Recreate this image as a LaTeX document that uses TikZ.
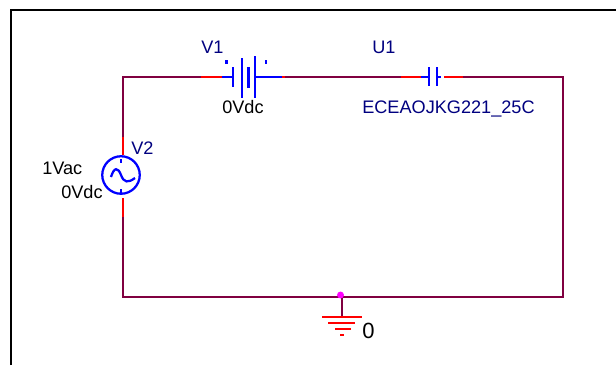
\documentclass[tikz,border=0pt]{standalone}
\usepackage{fontspec}
\setmainfont{Liberation Sans}
\definecolor{wirec}{HTML}{800040}
\definecolor{navyc}{HTML}{000080}
\definecolor{gdotc}{HTML}{FF00FF}
\tikzset{
  x=0.75pt,y=-0.75pt,
  wire/.style={draw=wirec,line width=1.5pt},
  lead/.style={draw=red,line width=1.5pt},
  sym/.style={draw=blue,line width=1.7pt},
  partname/.style={inner sep=0pt,text=navyc,font=\fontsize{13.6}{16}\selectfont},
  partval/.style={inner sep=0pt,text=black,font=\fontsize{13.6}{16}\selectfont},
  gnd/.style={draw=red,line width=1.5pt},
  pin/.style={fill=blue,inner sep=0pt,minimum width=2.2pt,minimum height=3.2pt},
}
\begin{document}
\begin{tikzpicture}
\useasboundingbox (0,0) rectangle (616,365);
\fill[white] (0,0) rectangle (616,365);
% frame
\coordinate (fa) at (11,365);
\coordinate (fb) at (11,10);
\coordinate (fc) at (616,10);
\draw[black,line width=1.5pt] (fa) -- (fb) -- (fc);
% corners and terminals
\coordinate (tl) at (123,77);
\coordinate (tr) at (563,77);
\coordinate (bl) at (123,297);
\coordinate (br) at (563,297);
\coordinate (batL) at (201,77);
\coordinate (batR) at (285,77);
\coordinate (capL) at (401,77);
\coordinate (capR) at (463,77);
\coordinate (srcT) at (123,137);
\coordinate (srcB) at (123,217);
\coordinate (gndT) at (342,297);
\coordinate (gndB) at (342,317);
% wires
\draw[wire] (srcT) -- (tl) -- (batL);
\draw[wire] (batR) -- (capL);
\draw[wire] (capR) -- (tr) -- (br) -- (bl) -- (srcB);
\draw[wire] (gndT) -- (gndB);
% battery V1
\coordinate (b1) at (233,77);
\coordinate (b4) at (255,77);
\coordinate (b5) at (282,77);
\draw[lead] (batL) -- (222,77);
\draw[sym] (222,77) -- (b1);
\draw[sym] (233,67) -- (233,87);
\draw[sym] (242,58) -- (242,98);
\draw[sym] (248.5,67) -- (248.5,88);
\draw[sym] (255,56) -- (255,98);
\draw[sym] (b4) -- (b5);
\draw[lead] (b5) -- (batR);
\node[pin] (bp1) at (226.5,62) {};
\node[pin] (bp2) at (266,62) {};
\node[partname,anchor=base west] (v1) at (201,53.5) {V1};
\node[partval,anchor=base west] (v1v) at (222,113.5) {0Vdc};
% capacitor U1
\coordinate (c1) at (429,77);
\coordinate (c2) at (437,77);
\draw[lead] (capL) -- (421,77);
\draw[sym] (421,77) -- (c1);
\draw[sym] (429,67) -- (429,86);
\draw[sym] (437,67) -- (437,86);
\draw[sym] (c2) -- (441,77);
\draw[lead] (444,77) -- (capR);
\node[partname,anchor=base west] (u1) at (372,53.5) {U1};
\node[partname,anchor=base west] (u1v) at (362,113.5) {ECEAOJKG221\_25C};
% source V2
\node[circle,draw=blue,line width=1.7pt,minimum size=37.5*0.75pt,inner sep=0pt] (src) at (121,175) {};
\draw[lead] (srcT) -- (123,155);
\draw[lead] (123,198) -- (srcB);
\draw[sym] (111,177) .. controls (114,167) and (118,167) .. (121,175) .. controls (124,183) and (128,183) .. (135,178);
\node[pin] (sp1) at (121,161) {};
\node[pin] (sp2) at (121,191) {};
\node[partname,anchor=base west] (v2) at (131,154) {V2};
\node[partval,anchor=base west] (v2a) at (42,174) {1Vac};
\node[partval,anchor=base west] (v2v) at (61,198) {0Vdc};
% ground
\draw[gnd] (322,317) -- (362,317);
\draw[gnd] (328,323) -- (355,323);
\draw[gnd] (335,329) -- (351,329);
\draw[gnd] (340,335) -- (344,335);
\node[circle,fill=gdotc,inner sep=0pt,minimum size=5.2pt] (gdot) at (340.5,295) {};
\node[inner sep=0pt,anchor=base west,font=\fontsize{16.5}{19}\selectfont] (zero) at (362,338) {0};
\end{tikzpicture}
\end{document}
